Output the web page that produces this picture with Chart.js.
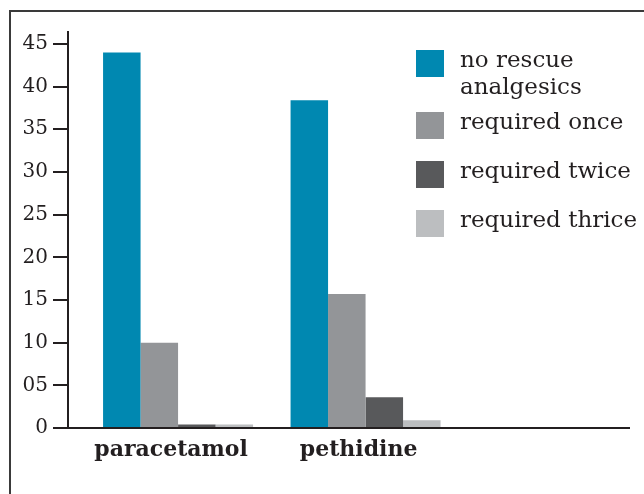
<!DOCTYPE html>
<html>
<head>
<meta charset="utf-8">
<script src="https://cdn.jsdelivr.net/npm/chart.js@4.4.1/dist/chart.umd.min.js"></script>
<style>
  html, body { margin: 0; padding: 0; background: #fff; }
  #wrap { position: relative; width: 644px; height: 494px; overflow: hidden; }
  #frame { position: absolute; left: 9px; top: 10px; width: 700px; height: 600px;
           border-top: 2px solid #3a3a3a; border-left: 2px solid #3a3a3a; }
  canvas { position: absolute; left: 0; top: 0; }
</style>
</head>
<body>
<div id="wrap">
  <div id="frame"></div>
  <canvas id="chart" width="644" height="494"></canvas>
</div>
<script>
// Rescue analgesia per group
const categories = ['paracetamol', 'pethidine'];
const seriesNames = ['no rescue analgesics', 'required once', 'required twice', 'required thrice'];
const noRescue = [44, 38.4];
const requiredOnce = [10, 15.7];
const requiredTwice = [0.4, 3.6];
const requiredThrice = [0.4, 0.9];
const yTicks = [0, 5, 10, 15, 20, 25, 30, 35, 40, 45];
const yTickLabels = ['0', '05', '10', '15', '20', '25', '30', '35', '40', '45'];

const colors = ['#0088b1', '#939598', '#58595b', '#bcbec0'];
const ink = '#231f20';
const serif = "'DejaVu Serif', 'Liberation Serif', serif";

const seriesValues = [noRescue, requiredOnce, requiredTwice, requiredThrice];

// legend drawn at the top right, inside the plot
const sideLegend = {
    id: 'sideLegend',
    afterDraw(chart) {
        const ctx = chart.ctx;
        const boxX = 416, textX = 460, box = 28, maxW = 185;
        let y = 50;
        ctx.save();
        ctx.font = '23px ' + serif;
        ctx.fillStyle = ink;
        ctx.textBaseline = 'middle';
        chart.data.datasets.forEach(ds => {
            // word wrap
            const words = ds.label.split(' ');
            const lines = [];
            let line = '';
            words.forEach(w => {
                const test = line ? line + ' ' + w : w;
                if (ctx.measureText(test).width > maxW && line) {
                    lines.push(line);
                    line = w;
                } else {
                    line = test;
                }
            });
            lines.push(line);
            ctx.fillStyle = ds.backgroundColor;
            ctx.fillRect(boxX, y, box, box - 1);
            ctx.fillStyle = ink;
            lines.forEach((l, i) => {
                ctx.fillText(l, textX, y + 11 + i * 27);
            });
            y += lines.length > 1 ? 62 : 49;
        });
        ctx.restore();
    }
};

new Chart(document.getElementById('chart').getContext('2d'), {
    type: 'bar',
    data: {
        datasets: seriesNames.map((name, s) => ({
            label: name,
            data: seriesValues[s].map((v, i) => ({ x: i, y: v })),
            backgroundColor: colors[s],
            borderWidth: 0,
            categoryPercentage: 0.8,
            barPercentage: 1.0
        }))
    },
    options: {
        responsive: false,
        animation: false,
        layout: { padding: { top: 32, right: 15, left: 0, bottom: 0 } },
        plugins: {
            legend: { display: false },
            tooltip: { enabled: false }
        },
        scales: {
            x: {
                type: 'linear',
                offset: false,
                min: -0.587,
                max: 2.405,
                afterBuildTicks: function(scale) {
                    scale.ticks = categories.map((c, i) => ({ value: i }));
                },
                afterFit: function(scale) {
                    scale.height = 66;
                },
                grid: { offset: false, drawOnChartArea: false, drawTicks: false },
                border: { color: ink, width: 2 },
                ticks: {
                    padding: 9,
                    labelOffset: -7,
                    color: ink,
                    maxRotation: 0,
                    autoSkip: false,
                    font: { family: serif, size: 22, weight: 'bold' },
                    callback: function(value) {
                        return categories[value];
                    }
                }
            },
            y: {
                min: 0,
                max: 46.4,
                afterBuildTicks: function(scale) {
                    scale.ticks = yTicks.map(v => ({ value: v }));
                },
                afterFit: function(scale) {
                    scale.width = 68;
                },
                grid: {
                    drawOnChartArea: false,
                    drawTicks: true,
                    tickLength: 15,
                    tickColor: ink,
                    lineWidth: 2
                },
                border: { color: ink, width: 2 },
                ticks: {
                    padding: 5,
                    color: ink,
                    font: { family: serif, size: 20 },
                    callback: function(value) {
                        return yTickLabels[yTicks.indexOf(value)];
                    }
                }
            }
        }
    },
    plugins: [sideLegend]
});
</script>
</body>
</html>
